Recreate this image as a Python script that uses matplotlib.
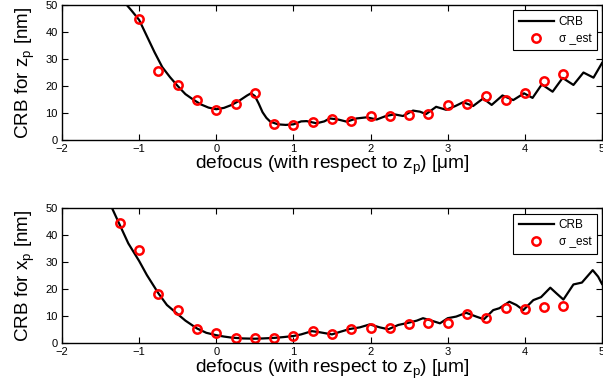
import matplotlib
matplotlib.use("Agg")
import matplotlib.pyplot as plt

plt.rcParams['font.family'] = ['Liberation Sans', 'DejaVu Sans']
plt.rcParams['mathtext.fontset'] = 'custom'
plt.rcParams['mathtext.rm'] = 'Liberation Sans'
plt.rcParams['mathtext.it'] = 'Liberation Sans'

# ---- data: top panel (z_p) ----
crb_z_x = [-1.16, -1.1, -1.0, -0.9, -0.8, -0.7, -0.6, -0.5, -0.4, -0.3, -0.2, -0.1,
           0.0, 0.1, 0.2, 0.3, 0.4, 0.45, 0.5, 0.55, 0.6, 0.65, 0.7, 0.8, 0.9, 1.0,
           1.1, 1.17, 1.3, 1.4, 1.47, 1.58, 1.69, 1.82, 1.95, 2.08, 2.2, 2.31, 2.42,
           2.55, 2.64, 2.72, 2.85, 2.98, 3.1, 3.2, 3.33, 3.46, 3.57, 3.71, 3.85, 3.99,
           4.1, 4.22, 4.36, 4.49, 4.63, 4.76, 4.89, 5.0]
crb_z_y = [50, 48, 44.5, 38.5, 32.5, 27, 23.3, 20, 17, 15, 13.2, 12,
           11.4, 11.9, 13, 14.6, 16.5, 17.3, 16.3, 13.5, 10.3, 8.2, 6.8, 5.8, 5.6, 5.8,
           6.9, 7.0, 6.2, 6.9, 8.0, 7.6, 6.8, 8.0, 8.4, 7.6, 8.9, 9.5, 8.9,
           10.9, 10.5, 9.6, 12.3, 11.2, 12.6, 14.0, 12.6, 15.4, 13.0, 16.5, 14.8, 17.3,
           15.6, 20.6, 17.9, 23.0, 20.4, 25.0, 23.1, 28.5]
est_z_x = [-1.0, -0.75, -0.5, -0.25, 0.0, 0.25, 0.5, 0.75, 1.0, 1.25, 1.5, 1.75,
           2.0, 2.25, 2.5, 2.75, 3.0, 3.25, 3.5, 3.75, 4.0, 4.25, 4.5]
est_z_y = [45, 25.5, 20.2, 15, 11, 13.5, 17.5, 6, 5.7, 6.8, 7.7, 7.2,
           8.9, 8.8, 9.3, 9.8, 13, 13.5, 16.2, 14.9, 17.3, 21.8, 24.4]

# ---- data: bottom panel (x_p) ----
crb_x_x = [-1.35, -1.25, -1.14, -1.0, -0.9, -0.75, -0.64, -0.5, -0.4, -0.25, -0.13,
           0.0, 0.1, 0.2, 0.35, 0.5, 0.6, 0.75, 0.87, 1.0, 1.1, 1.24, 1.34, 1.5, 1.6,
           1.73, 1.86, 1.99, 2.12, 2.23, 2.36, 2.49, 2.6, 2.68, 2.79, 2.9, 3.0, 3.11,
           3.24, 3.37, 3.47, 3.59, 3.67, 3.8, 3.89, 3.98, 4.11, 4.21, 4.33, 4.41, 4.5,
           4.63, 4.74, 4.88, 4.95, 5.0]
crb_x_y = [50, 43.8, 37, 30.5, 25.3, 18.5, 14.2, 10.8, 8.4, 5.5, 3.9,
           3.0, 2.5, 2.1, 1.8, 1.7, 1.8, 2.0, 2.3, 2.7, 3.3, 4.5, 4.1, 3.3, 4.2,
           5.3, 5.9, 7.0, 5.9, 5.2, 6.8, 7.6, 8.4, 9.3, 8.4, 7.4, 9.3, 9.9,
           11.3, 9.9, 8.9, 12.3, 13.0, 15.4, 14.2, 12.3, 16.0, 17.1, 20.6, 18.5, 16.2,
           21.8, 22.5, 27.1, 24.7, 22.0]
est_x_x = [-1.25, -1.0, -0.75, -0.5, -0.25, 0.0, 0.25, 0.5, 0.75, 1.0, 1.25, 1.5,
           1.75, 2.0, 2.25, 2.5, 2.75, 3.0, 3.25, 3.5, 3.75, 4.0, 4.25, 4.5]
est_x_y = [44.4, 34.6, 18.1, 12.3, 5.3, 3.7, 2.1, 1.8, 2.1, 2.7, 4.5, 3.5,
           5.4, 5.5, 5.5, 7.1, 7.4, 7.6, 10.9, 9.3, 13.1, 12.7, 13.6, 13.9]

x_ticks = [-2, -1, 0, 1, 2, 3, 4, 5]
y_ticks = [0, 10, 20, 30, 40, 50]

fig = plt.figure(figsize=(6.03, 3.87), dpi=100)
ax1 = fig.add_axes([0.1028, 0.6382, 0.8955, 0.3488])
ax2 = fig.add_axes([0.1028, 0.1129, 0.8955, 0.3488])

panels = [
    (ax1, crb_z_x, crb_z_y, est_z_x, est_z_y, 'CRB for z$_\\mathrm{p}$ [nm]'),
    (ax2, crb_x_x, crb_x_y, est_x_x, est_x_y, 'CRB for x$_\\mathrm{p}$ [nm]'),
]

for ax, cx, cy, ex, ey, ylab in panels:
    ax.plot(cx, cy, color='black', lw=1.6, solid_joinstyle='round', label='CRB')
    ax.plot(ex, ey, 'o', mfc='none', mec='#ff0000', mew=1.8, ms=6,
            label='\u03c3 _est')
    ax.set_xlim(-2, 5)
    ax.set_ylim(0, 50)
    ax.set_xticks(x_ticks)
    ax.set_yticks(y_ticks)
    ax.tick_params(direction='in', top=True, right=True, length=4, width=0.8,
                   labelsize=8, pad=3)
    for s in ax.spines.values():
        s.set_linewidth(1.0)
    ax.set_xlabel('defocus (with respect to z$_\\mathrm{p}$) [\u03bcm]', fontsize=13.8,
                  labelpad=0)
    ax.set_ylabel(ylab, fontsize=13.6, labelpad=6)
    leg = ax.legend(loc='upper right', fontsize=8.5, frameon=True, fancybox=False,
                    edgecolor='black', framealpha=1, borderpad=0.45,
                    handlelength=3.0, handletextpad=0.4, labelspacing=0.45,
                    borderaxespad=0.45)
    leg.get_frame().set_linewidth(0.8)

fig.savefig('out.png', dpi=100)
